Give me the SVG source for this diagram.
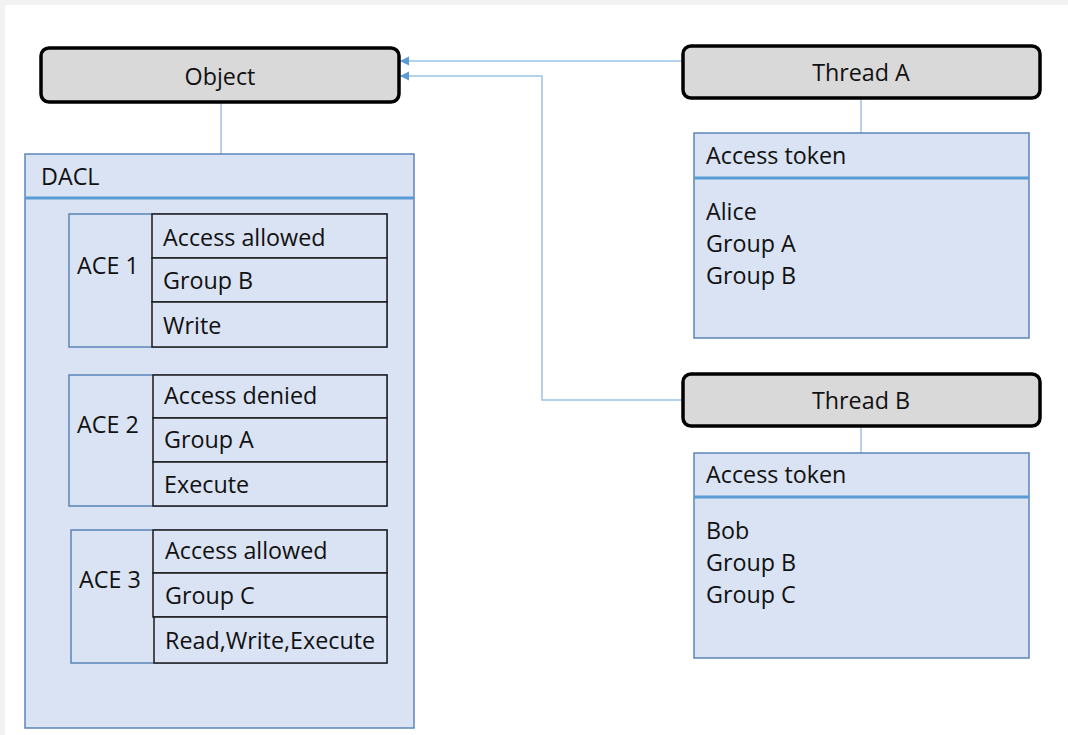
<svg xmlns="http://www.w3.org/2000/svg" width="1068" height="735" viewBox="0 0 1068 735">
<defs>
<marker id="arr" markerWidth="10" markerHeight="10" refX="9" refY="5" orient="auto" markerUnits="userSpaceOnUse">
<path d="M0,0.5 L9,5 L0,9.5 z" fill="#5b9bd5"/>
</marker>
<style>
text{font-family:"Open Sans","Liberation Sans",sans-serif;font-size:23.3px;fill:#111111}
.hdr{fill:#d9d9d9;stroke:#000;stroke-width:3.5}
.blue{fill:#dae3f3;stroke:#5b85b8;stroke-width:1.5}
.sep{stroke:#5b9bd5;stroke-width:3}
.field{fill:#dae3f3;stroke:#1a1a1a;stroke-width:1.5}
.ace{fill:#dae3f3;stroke:#5b85b8;stroke-width:1.5}
.conn{fill:none;stroke:#9dc3e6;stroke-width:1.5}
.mid{text-anchor:middle}
</style>
</defs>
<rect x="0" y="0" width="1068" height="735" fill="#f2f2f2"/>
<rect x="5" y="5" width="1063" height="730" fill="#ffffff"/>

<g id="connectors">
<line class="conn" x1="221" y1="102" x2="221" y2="154"/>
<line class="conn" x1="861" y1="98" x2="861" y2="133"/>
<line class="conn" x1="861" y1="426" x2="861" y2="453"/>
<path class="conn" d="M683,61 L400,61" marker-end="url(#arr)"/>
<path class="conn" d="M683,400 L542,400 L542,76 L400,76" marker-end="url(#arr)"/>
</g>

<g id="object">
<rect class="hdr" x="41" y="48" width="358" height="54" rx="8"/>
<text class="mid" x="220" y="85">Object</text>
</g>

<g id="dacl">
<rect class="blue" x="25" y="154" width="389" height="574"/>
<line class="sep" x1="25" y1="198" x2="414" y2="198"/>
<text x="41" y="185">DACL</text>
</g>

<g id="ace1">
<rect class="ace" x="69" y="214" width="318" height="133"/>
<rect class="field" x="152" y="214" width="235" height="44"/>
<rect class="field" x="152" y="258" width="235" height="44"/>
<rect class="field" x="152" y="302" width="235" height="45"/>
<text x="77" y="274">ACE 1</text>
<text x="163" y="246">Access allowed</text>
<text x="163" y="289">Group B</text>
<text x="163" y="334">Write</text>
</g>

<g id="ace2">
<rect class="ace" x="69" y="375" width="318" height="131"/>
<rect class="field" x="153" y="375" width="234" height="43"/>
<rect class="field" x="153" y="418" width="234" height="44"/>
<rect class="field" x="153" y="462" width="234" height="44"/>
<text x="77" y="433">ACE 2</text>
<text x="164" y="404">Access denied</text>
<text x="164" y="448">Group A</text>
<text x="164" y="493">Execute</text>
</g>

<g id="ace3">
<rect class="ace" x="71" y="530" width="316" height="133"/>
<rect class="field" x="153" y="530" width="234" height="43"/>
<rect class="field" x="153" y="573" width="234" height="44"/>
<rect class="field" x="154" y="617" width="233" height="46"/>
<text x="79" y="588">ACE 3</text>
<text x="165" y="559">Access allowed</text>
<text x="165" y="604">Group C</text>
<text x="165" y="649">Read,Write,Execute</text>
</g>

<g id="threadA">
<rect class="hdr" x="683" y="46" width="357" height="52" rx="8"/>
<text class="mid" x="861" y="81">Thread A</text>
</g>

<g id="tokenA">
<rect class="blue" x="694" y="133" width="335" height="205"/>
<line class="sep" x1="694" y1="178" x2="1029" y2="178"/>
<text x="706" y="164">Access token</text>
<text x="706" y="220">Alice</text>
<text x="706" y="252">Group A</text>
<text x="706" y="284">Group B</text>
</g>

<g id="threadB">
<rect class="hdr" x="683" y="374" width="357" height="52" rx="8"/>
<text class="mid" x="861" y="409">Thread B</text>
</g>

<g id="tokenB">
<rect class="blue" x="694" y="453" width="335" height="205"/>
<line class="sep" x1="694" y1="497" x2="1029" y2="497"/>
<text x="706" y="483">Access token</text>
<text x="706" y="539">Bob</text>
<text x="706" y="571">Group B</text>
<text x="706" y="603">Group C</text>
</g>
</svg>
